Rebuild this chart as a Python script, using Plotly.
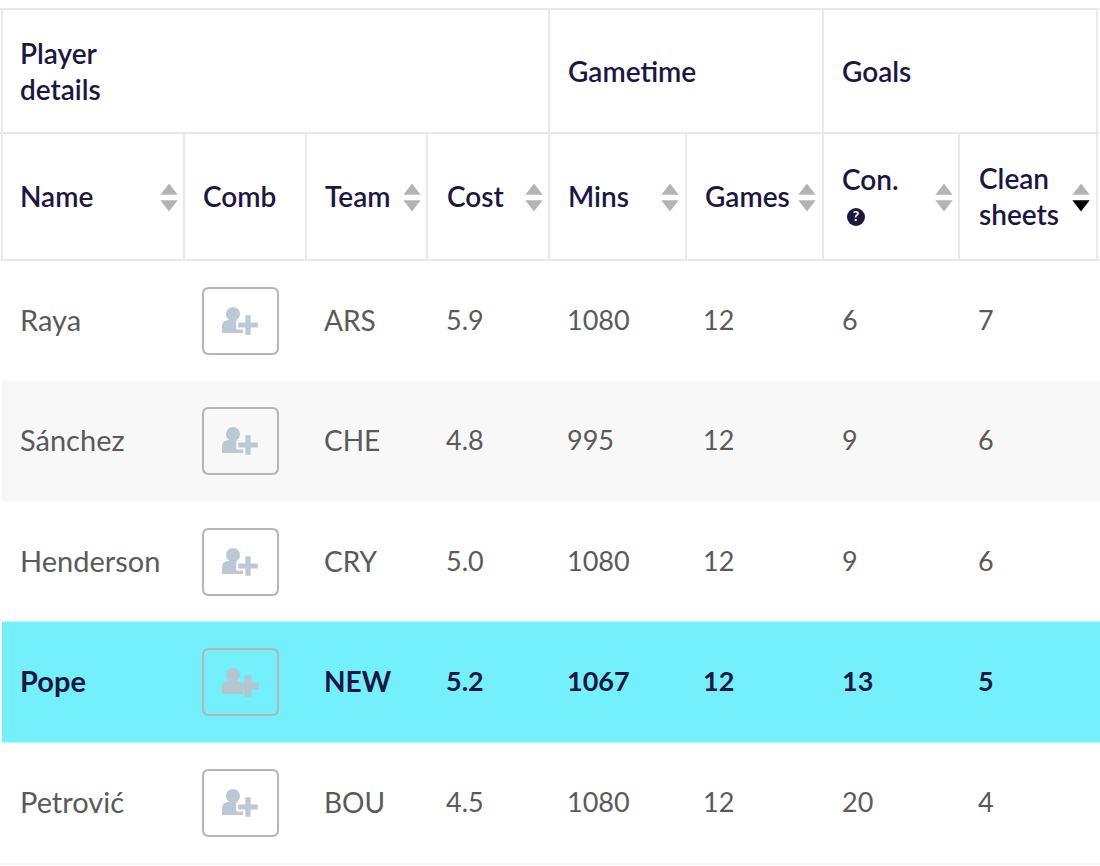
import plotly.graph_objects as go

# table content
names = ["Raya", "Sánchez", "Henderson", "Pope", "Petrović"]
teams = ["ARS", "CHE", "CRY", "NEW", "BOU"]
costs = [5.9, 4.8, 5.0, 5.2, 4.5]
mins = [1080, 995, 1080, 1067, 1080]
games = [12, 12, 12, 12, 12]
conceded = [6, 9, 9, 13, 20]
clean_sheets = [7, 6, 6, 5, 4]
highlight = "Pope"

group_headers = ["Player<br>details", "Gametime", "Goals"]
column_headers = ["Name", "Comb", "Team", "Cost", "Mins", "Games", "Con.", "Clean<br>sheets"]

# layout in page pixels
W, H = 1100, 866
col_edges = [2, 184, 306, 427, 549, 686, 823, 959, 1097]
group_edges = [2, 549, 823, 1097]
row_centers = [321, 441, 562, 682, 803]
row_half = 60.5
text_x = [20, 203, 325, 447, 568, 705, 842, 979]
body_x = [20, 203, 324, 446, 567, 703, 842, 978]
body_sizes = [29, 27, 28, 27, 27, 27, 27, 27]
header_y = [200, 200, 200, 200, 200, 200, 183, 200]
sort_x = [169, None, 412, 534, 670, 807, 944, 1081]
LINE = "#E9E9E9"
DARK = "#1D1740"
GREY = "#5A5A5A"
CYAN = "#74EFFC"
FONT = "Lato"
HEAD_SIZE = 28

fig = go.Figure()

# row backgrounds
for i, name in enumerate(names):
    fill = CYAN if name == highlight else ("#F8F8F8" if i % 2 == 1 else None)
    if fill:
        fig.add_shape(type="rect", x0=2, x1=W, y0=row_centers[i] - row_half, y1=row_centers[i] + row_half,
                      fillcolor=fill, line_width=0, layer="below")

# grid lines
for y, x0, x1 in [(9, 0, W), (133, 0, W), (260, 0, W), (864, 0, W)]:
    fig.add_shape(type="line", x0=x0, x1=x1, y0=y, y1=y, line=dict(color=LINE if y != 864 else "#F5F5F5", width=2), layer="below")
for x in group_edges:
    fig.add_shape(type="line", x0=x, x1=x, y0=9, y1=133, line=dict(color=LINE, width=2), layer="below")
for x in col_edges:
    fig.add_shape(type="line", x0=x, x1=x, y0=133, y1=260, line=dict(color=LINE, width=2), layer="below")

# group headers
fig.add_trace(go.Scatter(
    x=[text_x[0], text_x[4], text_x[6]], y=[75, 75, 75], text=group_headers, mode="text",
    textposition="middle right", textfont=dict(family=FONT, size=HEAD_SIZE, color=DARK, weight=600),
))

# column headers
fig.add_trace(go.Scatter(
    x=text_x, y=header_y, text=column_headers, mode="text",
    textposition="middle right", textfont=dict(family=FONT, size=HEAD_SIZE, color=DARK, weight=600),
))

# sort arrows
arrow_x = [x for x in sort_x if x is not None]
fig.add_trace(go.Scatter(x=arrow_x, y=[191] * len(arrow_x), mode="markers",
                         marker=dict(symbol="triangle-up", size=15, color="#B3B3B3", line_width=0)))
fig.add_trace(go.Scatter(x=arrow_x, y=[204] * len(arrow_x), mode="markers",
                         marker=dict(symbol="triangle-down", size=15,
                                     color=["#B3B3B3"] * (len(arrow_x) - 1) + ["#000000"], line_width=0)))

# help icon next to Con.
fig.add_trace(go.Scatter(x=[856], y=[217], mode="markers+text", text=["?"], textposition="middle center",
                         textfont=dict(family=FONT, size=14, color="white", weight=700),
                         marker=dict(symbol="circle", size=18, color=DARK, line_width=0)))

# body cells
columns = [names, None, teams, [f"{c:.1f}" for c in costs], mins, games, conceded, clean_sheets]
colors = [DARK if n == highlight else GREY for n in names]
weights = [700 if n == highlight else 400 for n in names]
for x, size, col in zip(body_x, body_sizes, columns):
    if col is None:
        continue
    fig.add_trace(go.Scatter(
        x=[x] * len(col), y=[c + 2.5 for c in row_centers], text=[str(v) for v in col], mode="text",
        textposition="middle right",
        textfont=dict(family=FONT, size=size, color=colors, weight=weights),
    ))

# combination buttons with the add-player icon
for i, (name, cy) in enumerate(zip(names, row_centers)):
    on_cyan = name == highlight
    icon = "#B4C6CF" if on_cyan else "#BCC8D3"
    back = CYAN if on_cyan else ("#F8F8F8" if i % 2 == 1 else "white")
    x0, x1, y0, y1, r = 203, 278, cy - 33, cy + 33, 6
    fig.add_shape(type="path", layer="below", line=dict(color="#B2B6B8", width=2),
                  path=f"M{x0+r},{y0} L{x1-r},{y0} Q{x1},{y0} {x1},{y0+r} L{x1},{y1-r} Q{x1},{y1} {x1-r},{y1} "
                       f"L{x0+r},{y1} Q{x0},{y1} {x0},{y1-r} L{x0},{y0+r} Q{x0},{y0} {x0+r},{y0} Z")
    # shoulders
    fig.add_shape(type="path", layer="below", fillcolor=icon, line_width=0,
                  path=f"M222,{cy+12} L222,{cy+5} Q222,{cy-1} 229,{cy-1} L236,{cy-1} Q243,{cy-1} 243,{cy+5} "
                       f"L243,{cy+12} Z")
    fig.add_trace(go.Scatter(x=[233], y=[cy - 7], mode="markers",
                             marker=dict(symbol="circle", size=14, color=icon, line_width=0)))
    fig.add_trace(go.Scatter(x=[248], y=[cy + 4], mode="markers",
                             marker=dict(symbol="cross", size=18, color=icon, line=dict(color=back, width=0 if on_cyan else 2))))

fig.update_layout(
    width=W, height=H, margin=dict(l=0, r=0, t=0, b=0), showlegend=False, hovermode=False,
    paper_bgcolor="white", plot_bgcolor="white",
    xaxis=dict(range=[0, W], visible=False, fixedrange=True),
    yaxis=dict(range=[H, 0], visible=False, fixedrange=True),
)

fig.write_html("out.html", config=dict(displayModeBar=False),
               post_script="document.body.style.margin='0';")
